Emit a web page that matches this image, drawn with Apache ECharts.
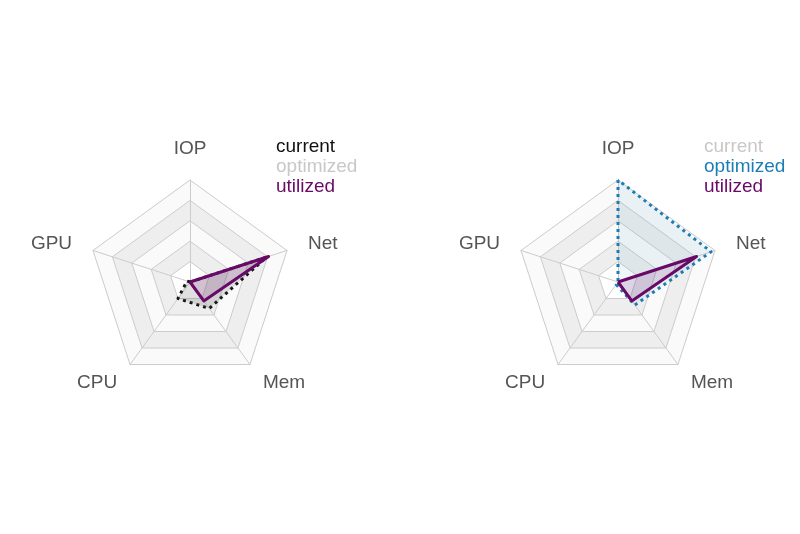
<!DOCTYPE html>
<html>
<head>
<meta charset="utf-8">
<script src="https://cdn.jsdelivr.net/npm/echarts@6/dist/echarts.min.js"></script>
<style>
html,body{margin:0;padding:0;background:#fff;}
#chart{width:800px;height:534px;}
</style>
</head>
<body>
<div id="chart"></div>
<script>
// Indicator order (ECharts places them counter-clockwise from the top)
const indicators = ['IOP', 'GPU', 'CPU', 'Mem', 'Net'];
const indicatorMax = 1;
const legendNames = ['current', 'optimized', 'utilized'];

// values in indicator order: IOP, GPU, CPU, Mem, Net
const currentValues = [0, 0.03, 0.2, 0.32, 0.79];
const optimizedValues = [1.0, 0, 0.03, 0.28, 0.96];
const utilizedValues = [0, 0, 0, 0.23, 0.81];

const FONT = '"Liberation Sans", Arial, Helvetica, sans-serif';
const PURPLE = '#680a68';
const BLUE = '#1d7db3';
const INACTIVE = '#c8c8c8';

function radarCfg(cx) {
  return {
    center: [cx, 282],
    radius: 102,
    startAngle: 90,
    splitNumber: 5,
    shape: 'polygon',
    indicator: indicators.map(n => ({ name: n, max: indicatorMax, min: 0 })),
    nameGap: 22,
    axisName: { color: '#555', fontSize: 19, fontFamily: FONT },
    axisLine: { lineStyle: { color: '#cccccc', width: 1 } },
    splitLine: { lineStyle: { color: '#cccccc', width: 1 } },
    splitArea: { show: true, areaStyle: { color: ['#ffffff', '#eeeeee', '#fafafa', '#eeeeee', '#fafafa'] } },
    axisTick: { show: false },
    axisLabel: { show: false }
  };
}

const chart = echarts.init(document.getElementById('chart'), null, { renderer: 'canvas' });

function legendTexts(x, colors) {
  return legendNames.map((n, i) => ({
    type: 'text',
    left: x,
    top: 137 + i * 20,
    style: { text: n, fill: colors[i], fontSize: 19, fontFamily: FONT }
  }));
}

chart.setOption({
  animation: false,
  backgroundColor: '#ffffff',
  radar: [radarCfg(190), radarCfg(618)],
  series: [
    {
      type: 'radar', radarIndex: 0, symbol: 'none', z: 2,
      data: [{
        name: 'current', value: currentValues,
        lineStyle: { color: '#111', width: 3, type: [3, 4] },
        areaStyle: { color: 'rgba(110,110,110,0.3)' }
      }]
    },
    {
      type: 'radar', radarIndex: 0, symbol: 'none', z: 3,
      data: [{
        name: 'utilized', value: utilizedValues,
        lineStyle: { color: PURPLE, width: 3 },
        areaStyle: { color: 'rgba(104,10,104,0.2)' }
      }]
    },
    {
      type: 'radar', radarIndex: 1, symbol: 'none', z: 2,
      data: [{
        name: 'optimized', value: optimizedValues,
        lineStyle: { color: BLUE, width: 3, type: [3, 4] },
        areaStyle: { color: 'rgba(29,125,179,0.1)' }
      }]
    },
    {
      type: 'radar', radarIndex: 1, symbol: 'none', z: 3,
      data: [{
        name: 'utilized', value: utilizedValues,
        lineStyle: { color: PURPLE, width: 3 },
        areaStyle: { color: 'rgba(104,10,104,0.2)' }
      }]
    }
  ],
  graphic: [
    ...legendTexts(276, ['#111111', INACTIVE, PURPLE]),
    ...legendTexts(704, [INACTIVE, BLUE, PURPLE])
  ]
});
</script>
</body>
</html>
